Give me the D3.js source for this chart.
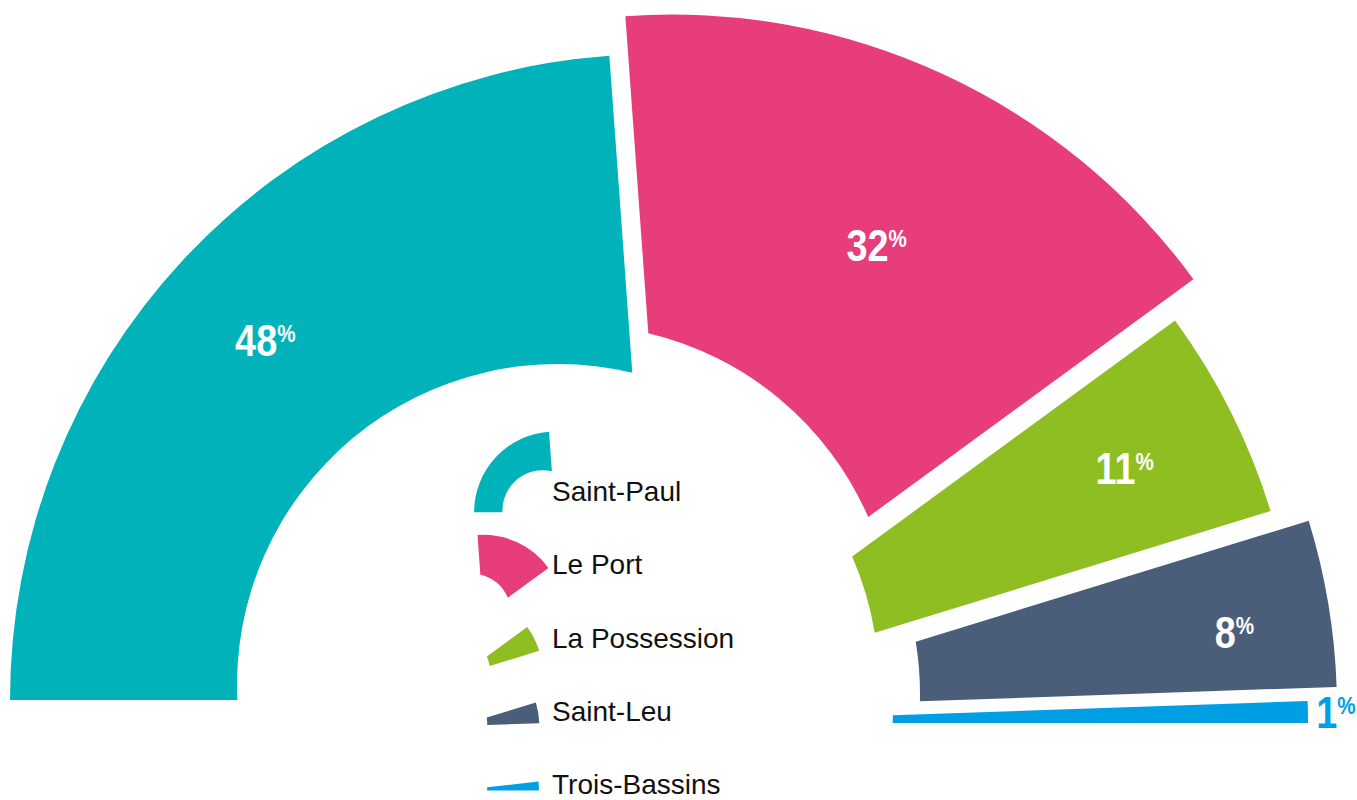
<!DOCTYPE html>
<html>
<head>
<meta charset="utf-8">
<script src="https://cdn.jsdelivr.net/npm/d3@7"></script>
<style>
  body { margin: 0; background: #fff; }
  text { font-family: 'Liberation Sans', Arial, sans-serif; }
</style>
</head>
<body>
<script>
var width = 1357;
var height = 800;

// data
var cities = ['Saint-Paul', 'Le Port', 'La Possession', 'Saint-Leu', 'Trois-Bassins'];
var shares = [47.7, 32.2, 10.6, 8.4, 1.1];
var colors = ['#00b3ba', '#e83d7b', '#8fbe23', '#4a5e7a', '#009fe3'];

// layout: common apex, then every wedge is pulled a bit out of place (like the original)
var cx = 656, cy = 700;
var hole = { dx: -98, dy: -15, r: 321 };   // the hole is off-centre, relative to each wedge apex
var sliceLayout = [
  { dx: 0,  dy: 0,     r: 646, lr: 531, la: 0.3 },
  { dx: 16, dy: -39.5, r: 646, lr: 463, la: -1.4 },
  { dx: 0,  dy: 0,     r: 643, lr: 523, la: -0.3 },
  { dx: 41, dy: 9,     r: 640, lr: 543, la: -1.4 },
  { dx: 14, dy: 23,    r: 638, lr: 666, la: 0 }
];
var iconScale = 0.125;
var iconMinSpan = 6.5 * Math.PI / 180; // tiny slices get a fatter icon
var iconNudge = [-21, 0, 7, 1, 0];

var svg = d3.select('body').append('svg')
  .attr('width', width)
  .attr('height', height);

var pie = d3.pie().sort(null)
  .startAngle(-Math.PI / 2)
  .endAngle(Math.PI / 2);
var arcs = pie(shares);

// d3 pie angle (0 = up, clockwise) -> math angle (0 = right, anticlockwise)
function toMath(a) {
  return Math.PI / 2 - a;
}

function wedgePath(a0, a1, px, py, R, s) {
  var hx = hole.dx * s, hy = hole.dy * s, hr = hole.r * s;
  var ro = R * s;
  function innerPt(a) {
    var ux = Math.cos(a), uy = -Math.sin(a);
    var m = ux * hx + uy * hy;
    var t = m + Math.sqrt(m * m - (hx * hx + hy * hy) + hr * hr);
    return [px + ux * t, py + uy * t];
  }
  var p = d3.path();
  p.moveTo(px + ro * Math.cos(a0), py - ro * Math.sin(a0));
  p.arc(px, py, ro, -a0, -a1, false);
  var i1 = innerPt(a1), i0 = innerPt(a0);
  p.lineTo(i1[0], i1[1]);
  p.arc(px + hx, py + hy, hr,
    Math.atan2(i1[1] - py - hy, i1[0] - px - hx),
    Math.atan2(i0[1] - py - hy, i0[0] - px - hx), true);
  p.closePath();
  return p.toString();
}

// big wedges
svg.append('g').selectAll('path')
  .data(arcs)
  .enter().append('path')
  .attr('d', function (d, i) {
    var L = sliceLayout[i];
    return wedgePath(toMath(d.startAngle), toMath(d.endAngle), cx + L.dx, cy + L.dy, L.r, 1);
  })
  .attr('fill', function (d, i) { return colors[i]; });

// percentage labels
var labels = svg.append('g').selectAll('g')
  .data(arcs)
  .enter().append('g')
  .attr('transform', function (d, i) {
    var L = sliceLayout[i];
    var mid = toMath((d.startAngle + d.endAngle) / 2) + L.la * Math.PI / 180;
    var x = cx + L.dx + L.lr * Math.cos(mid);
    var y = cy + L.dy - L.lr * Math.sin(mid);
    return 'translate(' + x + ',' + y + ') scale(0.86,1)';
  });

var lt = labels.append('text')
  .attr('text-anchor', 'middle')
  .attr('y', 16)
  .attr('font-weight', 'bold')
  .attr('fill', function (d, i) { return i === arcs.length - 1 ? colors[i] : '#fff'; });
lt.append('tspan')
  .attr('font-size', 44)
  .text(function (d) { return Math.round(d.data); });
lt.append('tspan')
  .attr('font-size', 24)
  .attr('dy', -14)
  .text('%');

// legend
var legendX = 552, legendY0 = 501, legendStep = 73.25, iconCx = 513;
var legend = svg.append('g').selectAll('g')
  .data(arcs)
  .enter().append('g');

legend.append('text')
  .attr('x', legendX)
  .attr('y', function (d, i) { return legendY0 + i * legendStep; })
  .attr('font-size', 28)
  .attr('fill', '#111')
  .text(function (d, i) { return cities[i]; });

legend.append('path')
  .attr('d', function (d, i) {
    var a0 = toMath(d.startAngle), a1 = toMath(d.endAngle);
    if (a0 - a1 < iconMinSpan) a0 = a1 + iconMinSpan;
    return wedgePath(a0, a1, 0, 0, sliceLayout[i].r, iconScale);
  })
  .attr('fill', function (d, i) { return colors[i]; })
  .attr('transform', function (d, i) {
    var b = this.getBBox();
    var ty = legendY0 + i * legendStep - 8 + iconNudge[i];
    return 'translate(' + (iconCx - b.x - b.width / 2) + ',' + (ty - b.y - b.height / 2) + ')';
  });
</script>
</body>
</html>
